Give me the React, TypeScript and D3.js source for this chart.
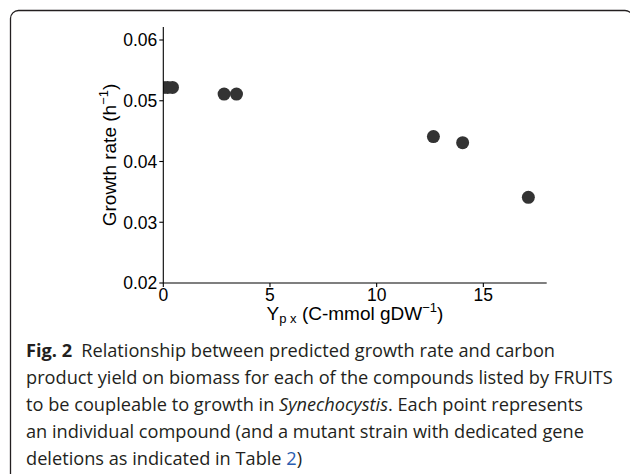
import React from "react";
import * as d3 from "d3";

const yields = [0, 0.2, 0.43, 2.85, 3.43, 12.66, 14.03, 17.11];
const growth = [0.0522, 0.0522, 0.0522, 0.0511, 0.0511, 0.0441, 0.0431, 0.0341];
const xTicks = [0, 5, 10, 15];
const yTicks = [0.02, 0.03, 0.04, 0.05, 0.06];

const W = 630;
const H = 474;
const px0 = 163.3;
const px1 = 546.7;
const pyBottom = 283;
const pyTop = 27;

export default function App() {
  const x = d3.scaleLinear().domain([0, 17.97]).range([px0, px1]);
  const y = d3.scaleLinear().domain([0.02, 0.06]).range([pyBottom, 40]);
  const fmt = d3.format(".2f");
  const axisFont = "'Liberation Sans', Arial, sans-serif";
  const capFont = "'Open Sans', 'Noto Sans', sans-serif";
  const capColor = "#231f20";
  const capX = 26;
  const baselines = [357, 384, 411, 438, 465];
  const capSize = 18.2;
  const tickSize = 17.5;
  const titleSize = 19;

  return (
    <svg
      width={W}
      height={H}
      style={{ position: "absolute", left: 0, top: 0, background: "#fff" }}
    >
      <rect x={0} y={0} width={W} height={H} fill="#fff" />
      <rect
        x={10.5}
        y={10.5}
        width={622.5}
        height={600}
        rx={8}
        ry={8}
        fill="none"
        stroke={capColor}
        strokeWidth={1.3}
      />
      <defs>
        <clipPath id="panel">
          <rect x={px0} y={pyTop} width={px1 - px0} height={pyBottom - pyTop} />
        </clipPath>
      </defs>
      <g clipPath="url(#panel)">
        {yields.map((v, i) => (
          <circle key={i} cx={x(v)} cy={y(growth[i])} r={6.5} fill="#333333" />
        ))}
      </g>
      {/* axes */}
      <line x1={px0} x2={px0} y1={pyTop} y2={pyBottom} stroke="#000" strokeWidth={1.1} />
      <line x1={px0} x2={px1} y1={pyBottom} y2={pyBottom} stroke="#000" strokeWidth={1.1} />
      {yTicks.map((t) => (
        <g key={t}>
          <line x1={px0 - 4} x2={px0} y1={y(t)} y2={y(t)} stroke="#000" strokeWidth={1.1} />
          <text
            x={px0 - 6}
            y={y(t)}
            dy="0.36em"
            textAnchor="end"
            fontFamily={axisFont}
            fontSize={tickSize}
            fill="#000"
          >
            {fmt(t)}
          </text>
        </g>
      ))}
      {xTicks.map((t) => (
        <g key={t}>
          <line x1={x(t)} x2={x(t)} y1={pyBottom} y2={pyBottom + 4} stroke="#000" strokeWidth={1.1} />
          <text
            x={x(t)}
            y={pyBottom + 17.5}
            textAnchor="middle"
            fontFamily={axisFont}
            fontSize={tickSize}
            fill="#000"
          >
            {t}
          </text>
        </g>
      ))}
      {/* x title */}
      <text
        x={(px0 + px1) / 2}
        y={320}
        textAnchor="middle"
        fontFamily={axisFont}
        fontSize={titleSize}
        fill="#000"
      >
        Y
        <tspan fontSize={13} dy={3}>p x</tspan>
        <tspan dy={-3}> (C-mmol gDW</tspan>
        <tspan fontSize={13} dy={-8}>−1</tspan>
        <tspan dy={8}>)</tspan>
      </text>
      {/* y title */}
      <text
        transform={`translate(116, ${(pyTop + pyBottom) / 2}) rotate(-90)`}
        textAnchor="middle"
        fontFamily={axisFont}
        fontSize={titleSize}
        fill="#000"
      >
        Growth rate (h
        <tspan fontSize={13} dy={-8}>−1</tspan>
        <tspan dy={8}>)</tspan>
      </text>
      {/* caption */}
      <g fontFamily={capFont} fontSize={capSize} fill={capColor}>
        <text x={capX} y={baselines[0]}>
          <tspan fontWeight="bold">Fig. 2</tspan>
          <tspan>{"\u2002Relationship between predicted growth rate and carbon"}</tspan>
        </text>
        <text x={capX} y={baselines[1]}>
          product yield on biomass for each of the compounds listed by FRUITS
        </text>
        <text x={capX} y={baselines[2]}>
          to be coupleable to growth in <tspan fontStyle="italic">Synechocystis</tspan>. Each point represents
        </text>
        <text x={capX} y={baselines[3]}>
          an individual compound (and a mutant strain with dedicated gene
        </text>
        <text x={capX} y={baselines[4]}>
          deletions as indicated in Table <tspan fill="#2a5db0">2</tspan>)
        </text>
      </g>
    </svg>
  );
}
